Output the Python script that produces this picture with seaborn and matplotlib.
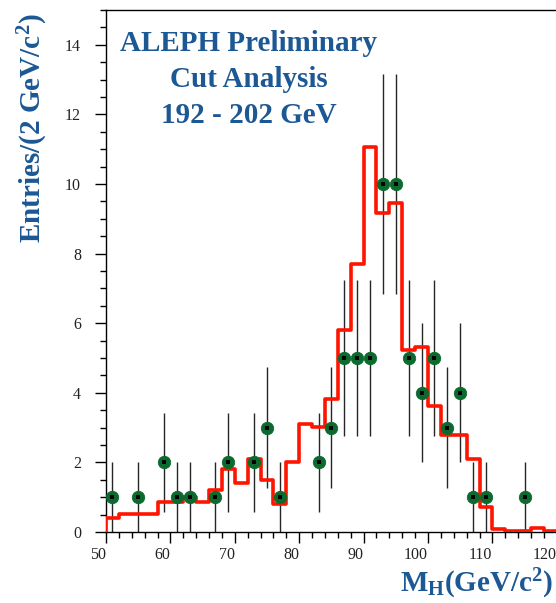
import numpy as np
import matplotlib
matplotlib.use("Agg")
import matplotlib.pyplot as plt
import seaborn as sns
from matplotlib.ticker import MultipleLocator

# Reconstructed Higgs mass histogram, 2 GeV bins from 50 to 120 GeV/c^2
bin_edges = np.arange(50, 122, 2)
mc_expected = [0.40, 0.52, 0.52, 0.52, 0.85, 0.85, 1.02, 0.87, 1.21, 1.81,
               1.40, 2.10, 1.50, 0.81, 2.00, 3.11, 3.01, 3.83, 5.81, 7.70,
               11.07, 9.16, 9.46, 5.22, 5.31, 3.61, 2.79, 2.79, 2.10, 0.71,
               0.08, 0.03, 0.03, 0.12, 0.03]

# Selected candidate events (bin centres and counts)
obs_mass = [51, 55, 59, 61, 63, 67, 69, 73, 75, 77, 83, 85, 87, 89, 91,
            93, 95, 97, 99, 101, 103, 105, 107, 109, 115]
obs_counts = [1, 1, 2, 1, 1, 1, 2, 2, 3, 1, 2, 3, 5, 5, 5,
              10, 10, 5, 4, 5, 3, 4, 1, 1, 1]

x_ticks = [50, 60, 70, 80, 90, 100, 110, 120, 130]
y_ticks = [0, 2, 4, 6, 8, 10, 12, 14]

title_lines = ["ALEPH Preliminary", "Cut Analysis", "192 - 202 GeV"]

sns.set_theme(style="ticks")
plt.rcParams["font.family"] = ["Liberation Serif", "DejaVu Serif"]
plt.rcParams["mathtext.fontset"] = "custom"
plt.rcParams["mathtext.rm"] = "Liberation Serif:bold"
plt.rcParams["mathtext.bf"] = "Liberation Serif:bold"
plt.rcParams["mathtext.it"] = "Liberation Serif:bold:italic"

BLUE = "#1b5894"

W, H = 556, 603
fig = plt.figure(figsize=(W / 100, H / 100), dpi=100)
fig.patch.set_facecolor("white")
# the frame runs past the right edge of the canvas
ax = fig.add_axes([106 / W, 71 / H, 515.2 / W, 522 / H])
ax.set_facecolor("white")

# expected distribution as a step outline, starting from zero at 50
step_x = np.r_[bin_edges[0], bin_edges]
step_y = np.r_[0.0, mc_expected, mc_expected[-1]]
sns.lineplot(x=step_x, y=step_y, drawstyle="steps-post", estimator=None,
             sort=False, color="#ff1400", linewidth=2.6, ax=ax, zorder=3,
             legend=False)

# data points with Poisson errors
ax.errorbar(obs_mass, obs_counts, yerr=np.sqrt(obs_counts), fmt="none",
            ecolor="#262626", elinewidth=1.0, capsize=0, zorder=2)
sns.scatterplot(x=obs_mass, y=obs_counts, s=80, color="#0c6a2e",
                edgecolor="#0c6a2e", linewidth=0.6, ax=ax, zorder=4,
                legend=False)
sns.scatterplot(x=obs_mass, y=obs_counts, s=6, marker="s", color="black",
                linewidth=0, ax=ax, zorder=5, legend=False)

ax.set_xlim(50, 130)
ax.set_ylim(0, 15)
ax.set_xticks(x_ticks)
ax.set_xticklabels([str(t) for t in x_ticks])
ax.set_yticks(y_ticks)
ax.set_yticklabels([str(t) for t in y_ticks])
ax.xaxis.set_minor_locator(MultipleLocator(2))
ax.yaxis.set_minor_locator(MultipleLocator(0.5))
for lab in ax.get_xticklabels():
    lab.set_horizontalalignment("right")
ax.tick_params(which="major", direction="out", length=8, width=1.0,
               color="black", labelsize=11.5, labelcolor="#222222")
ax.tick_params(which="minor", direction="out", length=4.5, width=1.0,
               color="black")
ax.tick_params(axis="x", which="major", pad=3)
ax.tick_params(axis="y", which="major", pad=10)
ax.set_xlabel("")
ax.set_ylabel("")
for side in ["left", "bottom", "top", "right"]:
    ax.spines[side].set_visible(True)
    ax.spines[side].set_color("black")
    ax.spines[side].set_linewidth(1.0)

# annotation in the upper left
baselines = [50.7, 87.3, 122.7]
for line, yb in zip(title_lines, baselines):
    fig.text(249 / W, 1 - yb / H, line, ha="center", va="baseline",
             fontsize=21, fontweight="bold", color=BLUE,
             family="Liberation Serif")

fig.text(0.995, 1 - 591.7 / H, r"M$_\mathregular{H}$(GeV/c$^\mathregular{2}$)",
         ha="right", va="baseline", fontsize=21, fontweight="bold",
         color=BLUE, family="Liberation Serif")
fig.text(41 / W, 1 - 13 / H, r"Entries/(2 GeV/c$^\mathregular{2}$)",
         rotation=90, rotation_mode="anchor", ha="right", va="baseline",
         fontsize=21, fontweight="bold", color=BLUE,
         family="Liberation Serif")

fig.savefig("out.png", dpi=100, facecolor="white")
